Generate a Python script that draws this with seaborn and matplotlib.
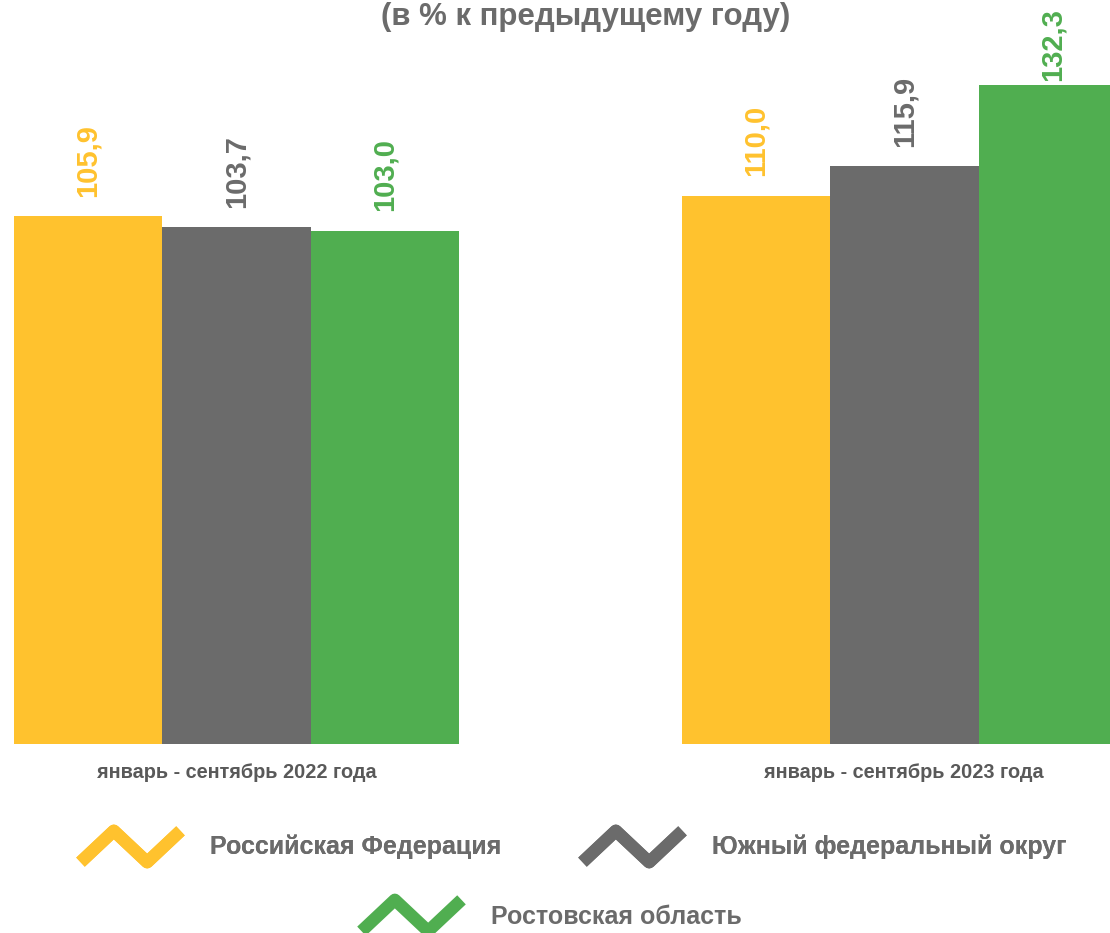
import pandas as pd
import matplotlib.pyplot as plt
import seaborn as sns
from matplotlib.path import Path
from matplotlib.markers import MarkerStyle
from matplotlib.lines import Line2D

periods = ['январь - сентябрь 2022 года', 'январь - сентябрь 2023 года']
regions = ['Российская Федерация', 'Южный федеральный округ', 'Ростовская область']
rf_values = [105.9, 110.0]
yfo_values = [103.7, 115.9]
ro_values = [103.0, 132.3]
colors = ['#FFC22E', '#6B6B6B', '#50AE50']

data = pd.DataFrame({
    'period': periods * 3,
    'region': [r for r in regions for _ in periods],
    'value': rf_values + yfo_values + ro_values,
})

sns.set_style('white')
plt.rcParams['font.family'] = ['Liberation Sans', 'DejaVu Sans']

fig = plt.figure(figsize=(11.1, 9.33), dpi=100)
ax = fig.add_axes([0, 189 / 933, 1, 744 / 933])

sns.barplot(data=data, x='period', y='value', hue='region', order=periods,
            hue_order=regions, palette=colors, saturation=1, width=0.667, gap=0,
            linewidth=0, legend=False, ax=ax)

ax.set_xlim(-0.354, 1.308)
ax.set_ylim(0, 149.3)
ax.set_xlabel('')
ax.set_ylabel('')
ax.set_yticks([])
sns.despine(ax=ax, left=True, bottom=True)
ax.tick_params(axis='x', length=0, pad=14)
for lbl in ax.get_xticklabels():
    lbl.set_fontsize(14.3)
    lbl.set_fontweight('bold')
    lbl.set_color('#595959')

# подписи значений
for i, cont in enumerate(ax.containers):
    for bar in cont:
        v = bar.get_height()
        x = bar.get_x() + bar.get_width() / 2
        txt = f"{v:.1f}".replace('.', ',')
        if v > 125:
            ax.annotate(txt, (x, 149.3), xytext=(0, -6), textcoords='offset points',
                        rotation=90, ha='center', va='top', fontsize=21,
                        fontweight='bold', color=colors[i], annotation_clip=False)
        else:
            ax.annotate(txt, (x, v), xytext=(0, 14), textcoords='offset points',
                        rotation=90, ha='center', va='bottom', fontsize=21,
                        fontweight='bold', color=colors[i])

fig.text(0.528, 1 - 25 / 933, '(в % к предыдущему году)', ha='center',
         va='baseline', fontsize=22.5, fontweight='bold', color='#6B6B6B')

# легенда с зигзагами
zig = Path([(-1.5, -0.47), (-0.5, 0.47), (0.5, -0.47), (1.5, 0.47)],
           [Path.MOVETO, Path.LINETO, Path.LINETO, Path.LINETO])
zmark = MarkerStyle(zig, joinstyle='miter', capstyle='butt')
handles = [Line2D([], [], linestyle='none', marker=zmark, markersize=72,
                  markerfacecolor='none', markeredgecolor=c, markeredgewidth=9)
           for c in colors]

leg_kw = dict(frameon=False, handlelength=4.2, handletextpad=1.1,
              columnspacing=3.1, borderpad=0, labelcolor='#6B6B6B',
              prop={'size': 18, 'weight': 'bold'})
leg1 = fig.legend(handles[:2], regions[:2], ncol=2, loc='center',
                  bbox_to_anchor=(572 / 1110, 86 / 933), **leg_kw)
fig.add_artist(leg1)
fig.legend(handles[2:], regions[2:], loc='center',
           bbox_to_anchor=(550 / 1110, 16 / 933), **leg_kw)

plt.savefig('out.png', dpi=100)
plt.close()
